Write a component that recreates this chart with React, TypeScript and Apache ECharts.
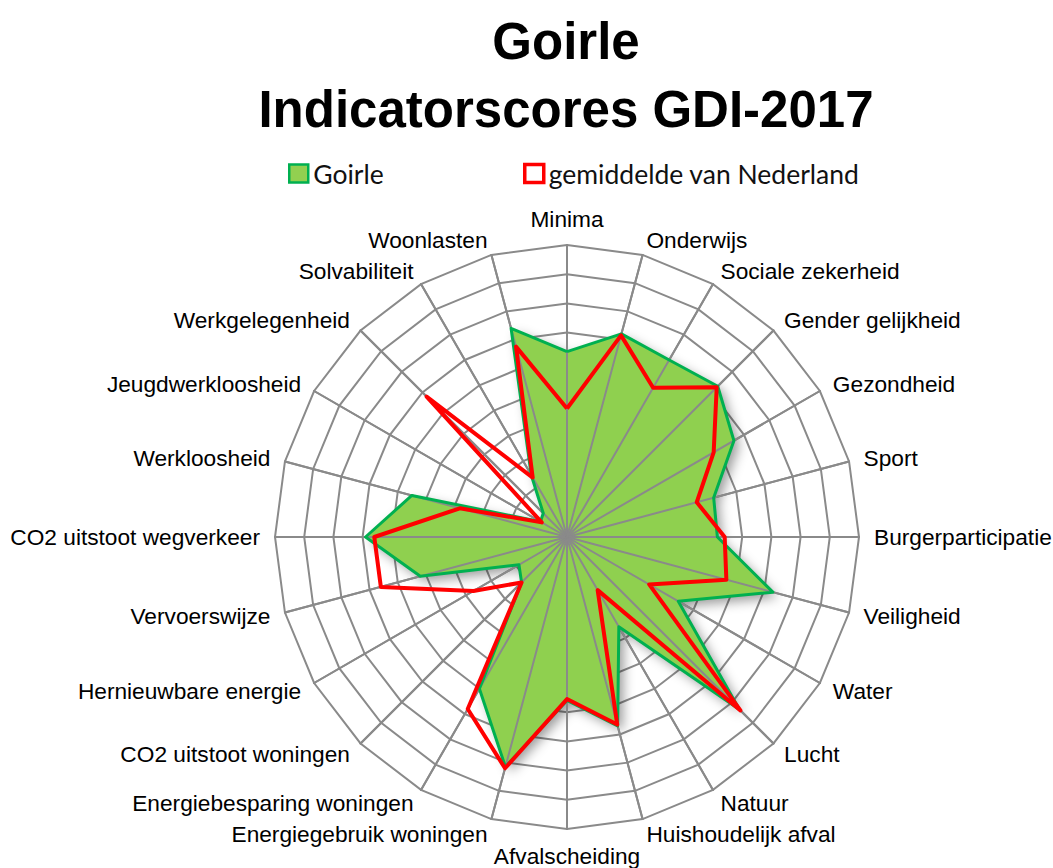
import React, { useEffect, useRef } from "react";
import * as echarts from "echarts";

// Indicators listed clockwise, starting at the top
const categories = [
  "Minima",
  "Onderwijs",
  "Sociale zekerheid",
  "Gender gelijkheid",
  "Gezondheid",
  "Sport",
  "Burgerparticipatie",
  "Veiligheid",
  "Water",
  "Lucht",
  "Natuur",
  "Huishoudelijk afval",
  "Afvalscheiding",
  "Energiegebruik woningen",
  "Energiebesparing woningen",
  "CO2 uitstoot woningen",
  "Hernieuwbare energie",
  "Vervoerswijze",
  "CO2 uitstoot wegverkeer",
  "Werkloosheid",
  "Jeugdwerkloosheid",
  "Werkgelegenheid",
  "Solvabiliteit",
  "Woonlasten",
];

const goirle = [
  6.35, 7.2, 7.0, 7.3, 6.6, 5.2, 5.15, 7.3, 4.4, 8.35, 3.55, 6.7, 5.6, 8.15,
  6.0, 2.2, 1.9, 5.2, 6.9, 5.5, 1.05, 1.15, 2.45, 7.4,
];

const nederland = [
  4.4, 7.15, 5.9, 7.25, 5.8, 4.6, 5.4, 5.65, 3.25, 8.4, 2.1, 6.65, 5.55, 8.2,
  6.8, 2.2, 3.7, 6.6, 6.6, 3.8, 1.0, 6.8, 2.35, 6.75,
];

const maxScore = 10;
const seriesNames = ["Goirle", "gemiddelde van Nederland"];
const titleLines = ["Goirle", "Indicatorscores GDI-2017"];

// ECharts places radar indicators counter-clockwise; reorder to get clockwise.
const toCcw = <T,>(arr: T[]): T[] => [arr[0], ...arr.slice(1).reverse()];

export default function App() {
  const ref = useRef<HTMLDivElement>(null);

  useEffect(() => {
    if (!ref.current) return;
    const chart = echarts.init(ref.current, null, { renderer: "svg" });

    const indicator = toCcw(categories).map((name) => ({
      name,
      max: maxScore,
      min: 0,
    }));

    const center = [567, 537];
    const radius = 292;
    const gray = "#8a8a8a";
    const legendText = {
      fontFamily: "Lato, Noto Sans, sans-serif",
      fontSize: 26.5,
      color: "#111",
    };

    chart.setOption({
      animation: false,
      backgroundColor: "#ffffff",
      graphic: [
        {
          type: "text",
          x: 566,
          y: 41,
          style: {
            text: titleLines[0],
            fontFamily: "Liberation Sans, Arial, sans-serif",
            fontWeight: "bold",
            fontSize: 51,
            fill: "#000",
            align: "center",
            verticalAlign: "middle",
          },
        },
        {
          type: "text",
          x: 566,
          y: 109,
          style: {
            text: titleLines[1],
            fontFamily: "Liberation Sans, Arial, sans-serif",
            fontWeight: "bold",
            fontSize: 51,
            fill: "#000",
            align: "center",
            verticalAlign: "middle",
          },
        },
      ],
      legend: [
        {
          left: 288,
          top: 160,
          padding: 0,
          itemWidth: 19,
          itemHeight: 18,
          icon: "rect",
          selectedMode: false,
          textStyle: legendText,
          data: [
            {
              name: seriesNames[0],
              itemStyle: {
                color: "#92D050",
                borderColor: "#00B050",
                borderWidth: 2.5,
              },
            },
          ],
        },
        {
          left: 523,
          top: 160,
          padding: 0,
          itemWidth: 19,
          itemHeight: 18,
          icon: "rect",
          selectedMode: false,
          textStyle: legendText,
          data: [
            {
              name: seriesNames[1],
              itemStyle: {
                color: "#ffffff",
                borderColor: "#FF0000",
                borderWidth: 3.5,
              },
            },
          ],
        },
      ],
      radar: [
        {
          center,
          radius,
          startAngle: 90,
          shape: "polygon",
          splitNumber: 10,
          indicator,
          axisNameGap: 15,
          axisName: {
            color: "#000",
            fontSize: 22.7,
            fontFamily: "Liberation Sans, Arial, sans-serif",
          },
          splitLine: { lineStyle: { color: gray, width: 2 } },
          splitArea: { show: false },
          axisLine: { lineStyle: { color: gray, width: 2 } },
          axisTick: { show: false },
          axisLabel: { show: false },
          z: 0,
        },
        {
          center,
          radius,
          startAngle: 90,
          shape: "polygon",
          splitNumber: 10,
          indicator,
          axisName: { show: false },
          splitLine: { show: false },
          splitArea: { show: false },
          axisLine: { lineStyle: { color: gray, width: 2 } },
          axisTick: { show: false },
          axisLabel: { show: false },
          z: 3,
        },
      ],
      series: [
        {
          name: seriesNames[0],
          type: "radar",
          radarIndex: 0,
          z: 2,
          symbol: "none",
          lineStyle: { width: 0, opacity: 0 },
          areaStyle: {
            color: "#8FD04F",
            opacity: 1,
            shadowColor: "rgba(0,0,0,0.4)",
            shadowBlur: 12,
            shadowOffsetX: 5,
            shadowOffsetY: 5,
          },
          data: [{ value: toCcw(goirle), name: seriesNames[0] }],
        },
        {
          name: seriesNames[0],
          type: "radar",
          radarIndex: 0,
          z: 4,
          symbol: "none",
          lineStyle: { width: 3, color: "#00B050" },
          itemStyle: { color: "#92D050" },
          data: [{ value: toCcw(goirle), name: seriesNames[0] }],
        },
        {
          name: seriesNames[1],
          type: "radar",
          radarIndex: 0,
          z: 5,
          symbol: "none",
          lineStyle: { width: 4, color: "#FF0000" },
          itemStyle: { color: "#FF0000" },
          data: [{ value: toCcw(nederland), name: seriesNames[1] }],
        },
      ],
    });

    return () => chart.dispose();
  }, []);

  return (
    <div
      ref={ref}
      style={{
        position: "fixed",
        left: 0,
        top: 0,
        width: 1053,
        height: 868,
        background: "#fff",
      }}
    />
  );
}
